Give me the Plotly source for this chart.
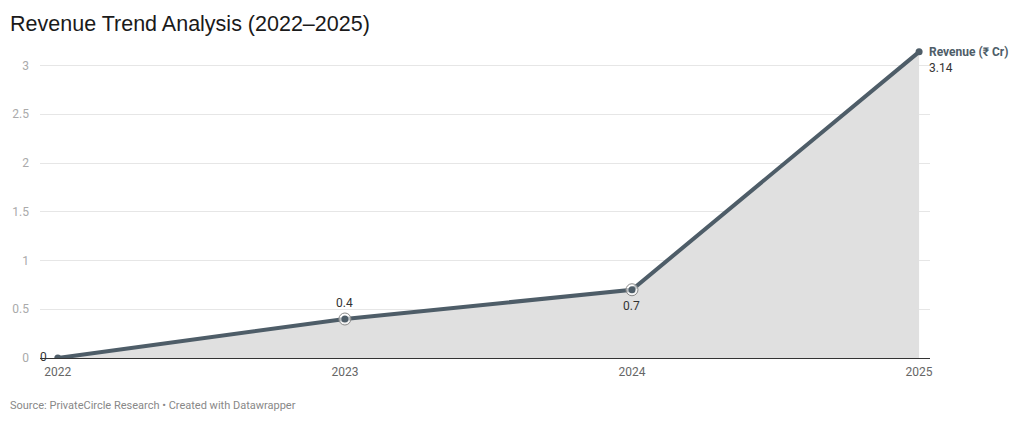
import plotly.graph_objects as go

years = [2022, 2023, 2024, 2025]
revenue = [0, 0.4, 0.7, 3.14]
point_labels = ["0", "0.4", "0.7", "3.14"]
series_name = "Revenue (₹ Cr)"
y_ticks = [0, 0.5, 1, 1.5, 2, 2.5, 3]
y_tick_text = ["0", "0.5", "1", "1.5", "2", "2.5", "3"]

LINE = "#4e5d68"
FONT = "Roboto"

fig = go.Figure()

fig.add_trace(go.Scatter(
    x=years, y=revenue, mode="lines", fill="tozeroy",
    fillcolor="#e0e0e0", line=dict(color=LINE, width=4),
    hoverinfo="skip", showlegend=False))

# ring markers at middle points
fig.add_trace(go.Scatter(
    x=years[1:3], y=revenue[1:3], mode="markers",
    marker=dict(size=12, color="rgba(255,255,255,0.6)",
                line=dict(color="#8a8a8a", width=1)),
    hoverinfo="skip", showlegend=False))
fig.add_trace(go.Scatter(
    x=years, y=revenue, mode="markers",
    marker=dict(size=7, color=LINE),
    hoverinfo="skip", showlegend=False))

# value labels
fig.add_annotation(x=years[1], y=revenue[1], text=point_labels[1], showarrow=False,
                   yanchor="bottom", yshift=7, font=dict(family=FONT, size=12, color="#333"))
fig.add_annotation(x=years[2], y=revenue[2], text=point_labels[2], showarrow=False,
                   yanchor="top", yshift=-7, font=dict(family=FONT, size=12, color="#333"))
fig.add_annotation(x=years[0], y=revenue[0], text=point_labels[0], showarrow=False,
                   xanchor="right", xshift=-9, yshift=1, font=dict(family=FONT, size=12, color="#333"))
fig.add_annotation(x=years[3], y=revenue[3], showarrow=False, xanchor="left", yanchor="top",
                   align="left", xshift=8, yshift=9,
                   text=f"<b>{series_name}</b><br><span style='color:#333'>{point_labels[3]}</span>",
                   font=dict(family=FONT, size=12, color=LINE))

fig.update_layout(
    width=1024, height=422,
    margin=dict(l=35, r=94, t=46, b=64),
    paper_bgcolor="white", plot_bgcolor="white",
    font=dict(family=FONT, size=12, color="#666"),
    title=dict(text="Revenue Trend Analysis (2022–2025)", x=0.0098, xanchor="left",
               y=0.945, yanchor="middle",
               font=dict(family="Liberation Sans", size=21.5, color="#1a1a1a")),
    xaxis=dict(range=[2021.938, 2025.038], tickvals=years, ticktext=[str(y) for y in years],
               showgrid=False, zeroline=False, showline=True, linecolor="#333", linewidth=1,
               ticks="", ticklabelstandoff=3, tickfont=dict(family=FONT, size=12, color="#666")),
    yaxis=dict(range=[0, 3.2], tickvals=y_ticks, ticktext=y_tick_text,
               showgrid=True, gridcolor="#e6e6e6", gridwidth=1, zeroline=False,
               showline=False, ticks="", ticklabelstandoff=10,
               tickfont=dict(family=FONT, size=12, color="#aaa")),
)

fig.add_annotation(text="Source: PrivateCircle Research • Created with Datawrapper",
                   xref="paper", yref="paper", x=-0.0361, y=-0.126, xanchor="left", yanchor="top",
                   showarrow=False, font=dict(family=FONT, size=11, color="#888"))

fig.write_html("out.html", config={"displayModeBar": False},
               post_script="document.body.style.margin='0';document.documentElement.style.margin='0';")
